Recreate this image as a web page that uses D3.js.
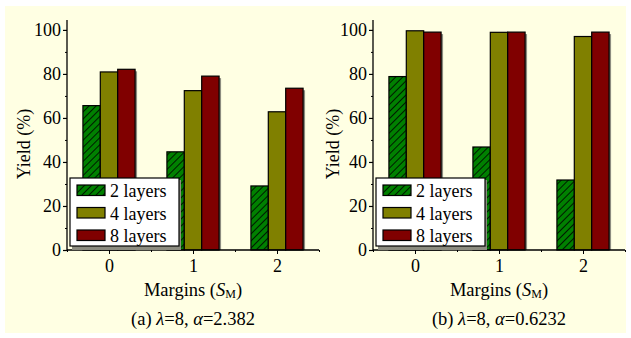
<!DOCTYPE html>
<html>
<head>
<meta charset="utf-8">
<script src="https://cdnjs.cloudflare.com/ajax/libs/d3/7.8.5/d3.min.js"></script>
<style>
  body { margin: 0; background: #ffffff; }
</style>
</head>
<body>
<svg id="chart" width="631" height="338"></svg>
<script>
// margins S_M on the x axis
var margins_x = [0, 1, 2];
var series_names = ["2 layers", "4 layers", "8 layers"];
var y_ticks = [0, 20, 40, 60, 80, 100];

// panel (a): lambda=8, alpha=2.382
var a_two = [65.6, 44.6, 29.1];
var a_four = [80.9, 72.4, 62.8];
var a_eight = [82.1, 79.0, 73.5];

// panel (b): lambda=8, alpha=0.6232
var b_two = [78.8, 46.8, 31.8];
var b_four = [99.6, 98.9, 97.0];
var b_eight = [99.0, 99.0, 99.0];

var panels = [
    {id: "a", left: 67, series: [a_two, a_four, a_eight], tag: "(a) ", alpha: "2.382"},
    {id: "b", left: 373, series: [b_two, b_four, b_eight], tag: "(b) ", alpha: "0.6232"}
];

var colors = ["#008000", "#808000", "#800000"];
var serif = "Liberation Serif";

var svg = d3.select("#chart")
    .attr("font-family", serif);

svg.append("rect")
    .attr("x", 5).attr("y", 6)
    .attr("width", 621).attr("height", 327)
    .attr("fill", "#ffffe3");

// hatch for the 2 layer bars
var defs = svg.append("defs");
var pat = defs.append("pattern")
    .attr("id", "hatch")
    .attr("patternUnits", "userSpaceOnUse")
    .attr("width", 5).attr("height", 5)
    .attr("patternTransform", "rotate(45)");
pat.append("rect").attr("width", 5).attr("height", 5).attr("fill", colors[0]);
pat.append("line")
    .attr("x1", 0).attr("y1", 0).attr("x2", 0).attr("y2", 5)
    .attr("stroke", "#000").attr("stroke-width", 1.6);

var fills = ["url(#hatch)", colors[1], colors[2]];

var plot_w = 252;
var top_y = 20;
var base_y = 250;
var bar_w = 0.207;

panels.forEach(function (p) {
    var g = svg.append("g")
        .attr("transform", "translate(" + p.left + ",0)");

    var x_scale = d3.scaleLinear().domain([-0.5, 2.5]).range([0, plot_w]);
    var y_scale = d3.scaleLinear().domain([0, 104.5]).range([base_y, top_y]);

    // bars
    p.series.forEach(function (vals, s) {
        var data = margins_x.map(function (m, i) { return {m: m, v: vals[i]}; });
        var off = (s - 1.5) * bar_w;
        var bg = g.append("g");
        // shadow
        bg.selectAll(".sh")
            .data(data)
            .enter()
            .append("rect")
            .attr("x", function (d) { return x_scale(d.m + off) + 2; })
            .attr("y", function (d) { return y_scale(d.v) + 2; })
            .attr("width", x_scale(bar_w) - x_scale(0))
            .attr("height", function (d) { return base_y - y_scale(d.v) - 2; })
            .attr("fill", "#8c8c80");
        bg.selectAll(".bar")
            .data(data)
            .enter()
            .append("rect")
            .attr("class", "bar")
            .attr("x", function (d) { return x_scale(d.m + off); })
            .attr("y", function (d) { return y_scale(d.v); })
            .attr("width", x_scale(bar_w) - x_scale(0))
            .attr("height", function (d) { return base_y - y_scale(d.v); })
            .attr("fill", fills[s])
            .attr("stroke", "#000")
            .attr("stroke-width", 1.2);
    });

    // y axis
    var y_axis = d3.axisLeft(y_scale).tickValues(y_ticks).tickSize(4).tickPadding(2);
    var ya = g.append("g").call(y_axis);
    ya.attr("font-family", serif).attr("font-size", 18);
    ya.selectAll("text").attr("font-family", serif);
    ya.select(".domain").attr("d", "M0," + top_y + "V" + base_y).attr("stroke-width", 1.3);
    ya.selectAll(".tick line").attr("stroke-width", 1.2);
    g.append("g")
        .call(d3.axisLeft(y_scale).tickValues(d3.range(10, 101, 20)).tickSize(2).tickFormat(""))
        .select(".domain").remove();

    // x axis
    var x_axis = d3.axisBottom(x_scale).tickValues(margins_x).tickFormat(d3.format("d")).tickSize(4).tickPadding(5);
    var xa = g.append("g").attr("transform", "translate(0," + base_y + ")").call(x_axis);
    xa.attr("font-family", serif).attr("font-size", 18);
    xa.selectAll("text").attr("font-family", serif);
    xa.select(".domain").attr("d", "M0,0H" + plot_w).attr("stroke-width", 1.3);
    g.append("g").attr("transform", "translate(0," + base_y + ")")
        .call(d3.axisBottom(x_scale).tickValues([-0.5, 0.5, 1.5, 2.5]).tickSize(2).tickFormat(""))
        .select(".domain").remove();

    // legend
    var lg = g.append("g").attr("transform", "translate(3,178)")
        .attr("font-size", 18);
    lg.append("rect").attr("x", 2).attr("y", 2).attr("width", 109).attr("height", 70).attr("fill", "#8c8c80");
    lg.append("rect").attr("x", 0).attr("y", 0).attr("width", 109).attr("height", 68)
        .attr("fill", "#fff").attr("stroke", "#000").attr("stroke-width", 1.2);
    series_names.forEach(function (name, s) {
        lg.append("rect")
            .attr("x", 7).attr("y", 7 + s * 22.5)
            .attr("width", 28).attr("height", 10.5)
            .attr("fill", fills[s]).attr("stroke", "#000").attr("stroke-width", 1.2);
        lg.append("text")
            .attr("x", 40).attr("y", 19 + s * 22.5)
            .attr("font-family", serif)
            .text(name);
    });

    // axis titles
    var xt = g.append("text")
        .attr("x", x_scale(1)).attr("y", 296)
        .attr("text-anchor", "middle")
        .attr("font-family", serif)
        .attr("font-size", 18.5);
    xt.append("tspan").text("Margins (");
    xt.append("tspan").attr("font-style", "italic").text("S");
    xt.append("tspan").attr("font-size", 12).attr("dy", 2).text("M");
    xt.append("tspan").attr("dy", -2).text(")");

    g.append("text")
        .attr("transform", "translate(" + (p.id === "a" ? -37 : -34) + ",144) rotate(-90)")
        .attr("text-anchor", "middle")
        .attr("font-family", serif)
        .attr("font-size", 18)
        .text("Yield (%)");

    var cap = g.append("text")
        .attr("x", x_scale(1)).attr("y", 325)
        .attr("text-anchor", "middle")
        .attr("font-family", serif)
        .attr("font-size", 18.5);
    cap.append("tspan").text(p.tag);
    cap.append("tspan").attr("font-style", "italic").text("λ");
    cap.append("tspan").text("=8, ");
    cap.append("tspan").attr("font-style", "italic").text("α");
    cap.append("tspan").text("=" + p.alpha);
});
</script>
</body>
</html>
